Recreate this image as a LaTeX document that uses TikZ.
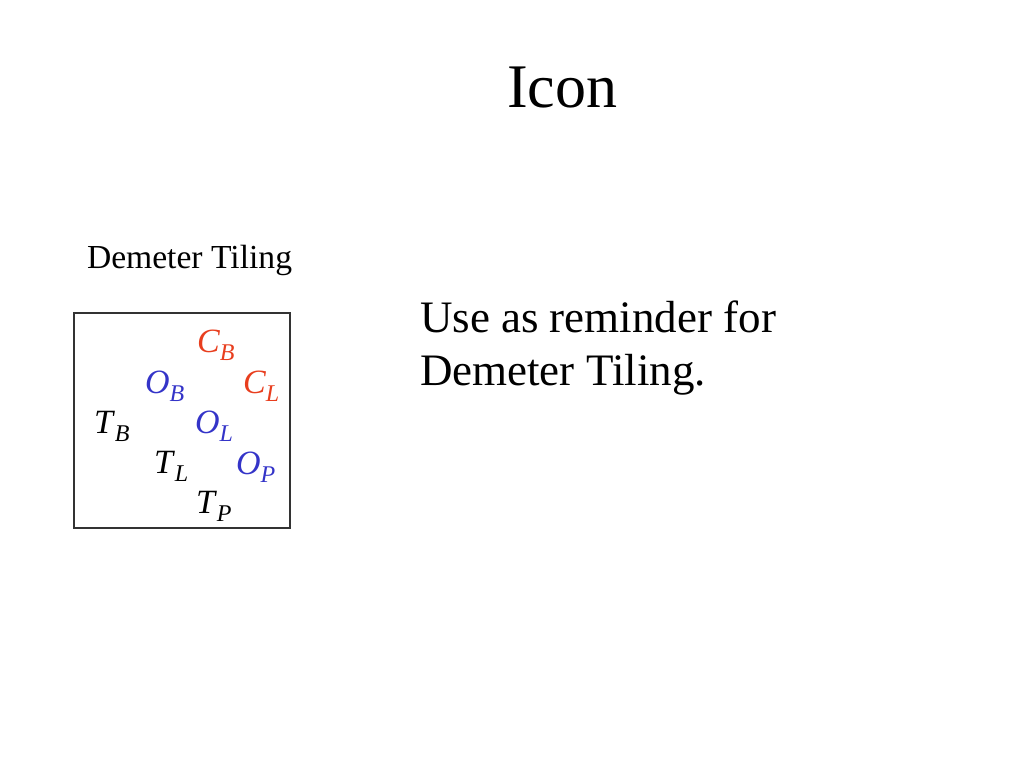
\documentclass[tikz,border=0pt]{standalone}
\usepackage{fontspec}
\setmainfont{Liberation Serif}
\definecolor{tred}{RGB}{232,62,30}
\definecolor{tblue}{RGB}{52,52,200}
\newcommand\msub[2]{\textit{#1}\raisebox{-8pt}{\fontsize{24}{24}\selectfont\textit{#2}}}
\begin{document}
\begin{tikzpicture}[x=1pt,y=-1pt,
  txt/.style={anchor=base west,inner sep=0pt,outer sep=0pt},
  lbl/.style={txt,font=\fontsize{34}{34}\selectfont}]
\useasboundingbox (0,0) rectangle (1024,768);
\node[txt,font=\fontsize{62}{62}\selectfont] (title) at (507,107) {Icon};
\node[txt,font=\fontsize{33.6}{33.6}\selectfont] (cap) at (87,268) {Demeter Tiling};
\node[txt,font=\fontsize{45}{45}\selectfont] (l1) at (420,332) {Use as reminder for};
\node[txt,font=\fontsize{45}{45}\selectfont] (l2) at (420,385) {Demeter Tiling.};
\draw[line width=1.5pt,black!80] (74,313) rectangle (290,528);
\node[lbl,text=tred] (cb) at (197,352) {\msub{C}{B}};
\node[lbl,text=tblue] (ob) at (145,393) {\msub{O}{B}};
\node[lbl,text=tred] (cl) at (243,393) {\msub{C}{L}};
\node[lbl] (tb) at (94,433) {\msub{T}{B}};
\node[lbl,text=tblue] (ol) at (195,433) {\msub{O}{L}};
\node[lbl] (tl) at (154,473) {\msub{T}{L}};
\node[lbl,text=tblue] (op) at (236,474) {\msub{O}{P}};
\node[lbl] (tp) at (196,513) {\msub{T}{P}};
\end{tikzpicture}
\end{document}
